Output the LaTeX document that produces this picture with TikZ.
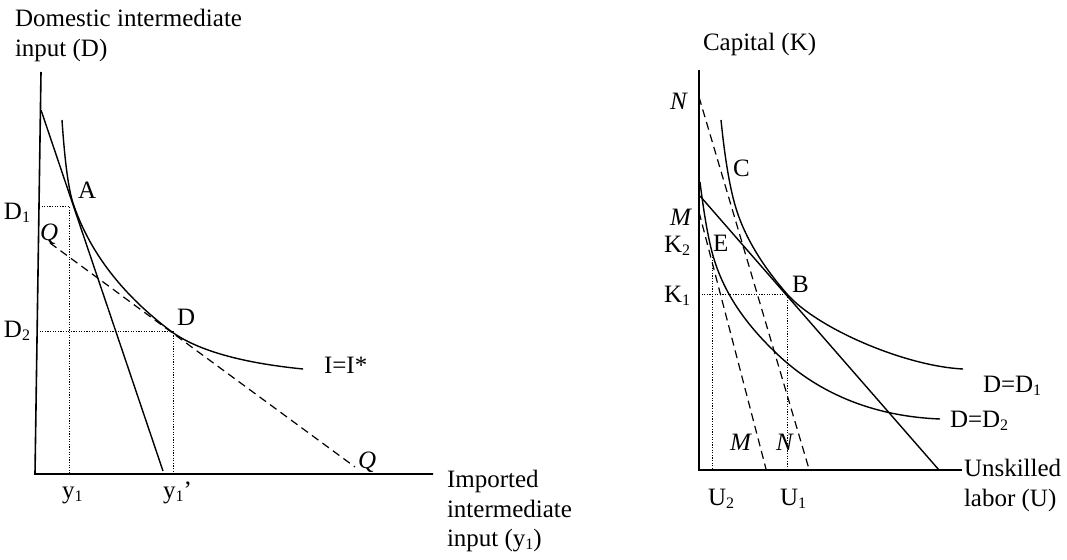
\documentclass[tikz,border=0pt]{standalone}
\usepackage{fontspec}
\setmainfont{Liberation Serif}
\newcommand{\lsub}[1]{\raisebox{-0.12em}{\fontsize{16}{16}\selectfont #1}}
\begin{document}
\begin{tikzpicture}[x=1pt,y=-1pt,
  font=\fontsize{25}{30}\selectfont,
  axis/.style={line width=1.6pt},
  curve/.style={line width=1.4pt},
  budget/.style={line width=1.4pt},
  dashline/.style={line width=1.2pt, dash pattern=on 8pt off 5pt},
  guide/.style={line width=0.9pt, dash pattern=on 1.2pt off 1.4pt},
  lab/.style={anchor=base west, inner sep=0pt, outer sep=0pt},
]
\path[use as bounding box] (0,0) rectangle (1067,559);

% ---------------- left panel ----------------
\coordinate (LyT) at (41,72);
\coordinate (LO) at (35,474);
\coordinate (LxE) at (433,474);
\draw[axis] (LyT) -- (LO) -- (LxE);

\coordinate (S1) at (41,110);
\coordinate (S2) at (163,471);
\draw[budget] (S1) -- (S2);

\coordinate (I0) at (62,120);
\coordinate (A) at (73,203);
\coordinate (Dp) at (172,332);
\coordinate (I1) at (303,369);
\draw[curve] (I0) .. controls (64.8,161.7) and (68.5,189.3) .. (A)
  .. controls (89.2,251.7) and (122.2,294.8) .. (Dp)
  .. controls (198,350.5) and (241.7,362.9) .. (I1);

\coordinate (Q1) at (50,243);
\coordinate (Q2) at (355,467);
\draw[dashline] (Q1) -- (Q2);

\coordinate (D1a) at (39,206);
\coordinate (D1b) at (69,206);
\coordinate (D1c) at (69,474);
\draw[guide] (D1a) -- (D1b) -- (D1c);
\coordinate (D2a) at (37,331);
\coordinate (D2b) at (173,331);
\coordinate (D2c) at (173,474);
\draw[guide] (D2a) -- (D2b) -- (D2c);

\node[lab] (tDom) at (15,27) {Domestic intermediate};
\node[lab] (tInp) at (15,57) {input (D)};
\node[lab] (tA) at (78,198) {A};
\node[lab] (tD1) at (4,219) {D\lsub{1}};
\node[lab] (tQa) at (40,240) {\textit{Q}};
\node[lab] (tD2) at (4,337) {D\lsub{2}};
\node[lab] (tD) at (177,325) {D};
\node[lab] (tI) at (324,373) {I=I*};
\node[lab] (tQb) at (358,468) {\textit{Q}};
\node[lab] (ty1) at (62,498) {y\lsub{1}};
\node[lab] (ty1p) at (163,498) {y\lsub{1}’};
\node[lab] (tImp) at (447,487) {Imported};
\node[lab] (tInt) at (447,517) {intermediate};
\node[lab] (tIn2) at (447,546) {input (y\lsub{1})};

% ---------------- right panel ----------------
\coordinate (RyT) at (699,70);
\coordinate (RO) at (699,470);
\coordinate (RxE) at (962,470);
\draw[axis] (RyT) -- (RO) -- (RxE);

\coordinate (B1) at (700,196);
\coordinate (B2) at (939,470);
\draw[budget] (B1) -- (B2);

% isoquant D = D1
\coordinate (U0) at (721,120);
\coordinate (Cp) at (735,205);
\coordinate (B) at (787,294);
\coordinate (U1e) at (963,369);
\draw[curve] (U0) .. controls (724.7,156.7) and (729.3,185) .. (Cp)
  .. controls (743.3,234.2) and (760.7,263.9) .. (B)
  .. controls (817.4,328.7) and (905.4,366.2) .. (U1e);

% isoquant D = D2
\coordinate (V0) at (700,182);
\coordinate (E) at (712,252);
\coordinate (Vm) at (773,350);
\coordinate (V1e) at (940,419);
\draw[curve] (V0) .. controls (703.9,213.6) and (707.9,236.3) .. (E)
  .. controls (720.8,285.5) and (739.5,317.5) .. (Vm)
  .. controls (815.5,392.5) and (872,416.3) .. (V1e);

\coordinate (N1) at (699,97);
\coordinate (N2) at (809,469);
\draw[dashline] (N1) -- (N2);
\coordinate (M1) at (699,212);
\coordinate (M2) at (766,469);
\draw[dashline] (M1) -- (M2);

\coordinate (K1a) at (699,294);
\coordinate (K1c) at (787,470);
\draw[guide] (K1a) -- (B) -- (K1c);
\coordinate (U2b) at (712,470);
\draw[guide] (E) -- (U2b);

\node[lab] (tCap) at (703,51) {Capital (K)};
\node[lab] (tN) at (670,110) {\textit{N}};
\node[lab] (tC) at (733,176) {C};
\node[lab] (tM) at (670,225) {\textit{M}};
\node[lab] (tK2) at (664,252) {K\lsub{2}};
\node[lab] (tE) at (713,251) {E};
\node[lab] (tK1) at (664,302) {K\lsub{1}};
\node[lab] (tB) at (792,292) {B};
\node[lab] (tDD1) at (983,392) {D=D\lsub{1}};
\node[lab] (tDD2) at (950,427) {D=D\lsub{2}};
\node[lab] (tMl) at (730,450) {\textit{M}};
\node[lab] (tNl) at (776,450) {\textit{N}};
\node[lab] (tU2) at (708,505) {U\lsub{2}};
\node[lab] (tU1) at (780,505) {U\lsub{1}};
\node[lab] (tUns) at (964,476) {Unskilled};
\node[lab] (tLab) at (964,506) {labor (U)};
\end{tikzpicture}
\end{document}
